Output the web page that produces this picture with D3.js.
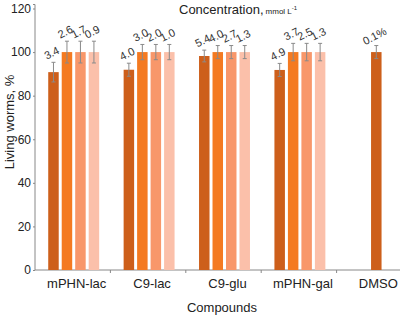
<!DOCTYPE html>
<html>
<head>
<meta charset="utf-8">
<script src="https://cdn.jsdelivr.net/npm/d3@7"></script>
<style>
  body { margin: 0; background: #fff; }
  text { font-family: "Liberation Sans", Arial, sans-serif; }
</style>
</head>
<body>
<div id="chart"></div>
<script>
// compounds on the x axis
const compounds = ["mPHN-lac", "C9-lac", "C9-glu", "mPHN-gal", "DMSO"];

// living worms (%) per compound, one value per concentration
const survival = [
    [90.8, 100, 100, 100],
    [91.9, 100, 100, 100],
    [98.2, 100, 100, 100],
    [91.8, 100, 100, 100],
    [100]
];

// error bar half-widths
const errors = [
    [4.5, 5, 5, 5],
    [3, 3.5, 3.5, 3.5],
    [2.7, 3, 3, 3],
    [3, 4, 4, 4],
    [3]
];

// concentration labels above each bar
const concLabels = [
    ["3.4", "2.6", "1.7", "0.9"],
    ["4.0", "3.0", "2.0", "1.0"],
    ["5.4", "4.0", "2.7", "1.3"],
    ["4.9", "3.7", "2.5", "1.3"],
    ["0.1%"]
];

const yTicks = [0, 20, 40, 60, 80, 100, 120];
const colors = ["#cd5f1b", "#f47a21", "#f8976a", "#fbc0aa"];

const width = 400, height = 319;
const margin = { left: 35, top: 8.5, bottom: 49 };

let svg = d3.select('#chart')
    .append('svg')
    .attr('width', width)
    .attr('height', height);

//Creating scales
let xScale = d3.scaleBand()
    .domain(compounds)
    .range([margin.left, 412]);

let inner = d3.scaleBand()
    .domain([0, 1, 2, 3])
    .range([0, xScale.bandwidth()])
    .paddingInner(0.222)
    .paddingOuter(0.907);

let yScale = d3.scaleLinear()
    .domain([0, 120])
    .range([height - margin.bottom, margin.top]);

//flatten into one row per bar
let bars = [];
compounds.forEach((c, i) => {
    survival[i].forEach((v, j) => {
        let x = survival[i].length === 1
            ? xScale(c) + xScale.bandwidth() / 2 - inner.bandwidth() / 2 + 2
            : xScale(c) + inner(j) + 1;
        bars.push({ compound: c, idx: j, value: v, err: errors[i][j], label: concLabels[i][j], x: x });
    });
});

//Y axis
let yAxis = d3.axisLeft(yScale)
    .tickValues(yTicks)
    .tickSize(2)
    .tickPadding(2);

svg.append('g')
    .attr('transform', `translate(${margin.left}, 0)`)
    .call(yAxis)
    .call(g => g.select('.domain').attr('stroke', '#888').attr('d', `M-2,${yScale(120) - 4}H0V${yScale(0)}`))
    .call(g => g.selectAll('.tick line').attr('stroke', '#888'))
    .call(g => g.selectAll('.tick text').attr('font-size', 12).attr('fill', '#222'));

//X axis with ticks on band boundaries
let xg = svg.append('g')
    .attr('transform', `translate(0, ${yScale(0)})`);

xg.append('line')
    .attr('x1', margin.left)
    .attr('x2', width)
    .attr('stroke', '#888');

xg.selectAll('.bound')
    .data(compounds.slice(1))
    .join('line')
    .attr('class', 'bound')
    .attr('x1', d => xScale(d))
    .attr('x2', d => xScale(d))
    .attr('y1', 0)
    .attr('y2', 3)
    .attr('stroke', '#888');

xg.selectAll('.cat')
    .data(compounds)
    .join('text')
    .attr('class', 'cat')
    .attr('x', d => xScale(d) + xScale.bandwidth() / 2 + 4)
    .attr('y', 18)
    .attr('text-anchor', 'middle')
    .attr('font-size', 13)
    .attr('fill', '#222')
    .text(d => d);

//Bars
svg.append('g')
    .selectAll('rect')
    .data(bars)
    .join('rect')
    .attr('x', d => d.x)
    .attr('y', d => yScale(d.value))
    .attr('width', inner.bandwidth())
    .attr('height', d => yScale(0) - yScale(d.value))
    .attr('fill', d => colors[d.idx]);

//Error bars
let eb = svg.append('g')
    .attr('stroke', '#8a8a8a')
    .attr('stroke-width', 1);

bars.forEach(d => {
    let cx = d.x + inner.bandwidth() / 2;
    eb.append('line')
        .attr('x1', cx).attr('x2', cx)
        .attr('y1', yScale(d.value - d.err))
        .attr('y2', yScale(d.value + d.err));
    [d.value - d.err, d.value + d.err].forEach(v => {
        eb.append('line')
            .attr('x1', cx - 2).attr('x2', cx + 2)
            .attr('y1', yScale(v)).attr('y2', yScale(v));
    });
});

//Concentration labels, tilted
svg.append('g')
    .selectAll('text')
    .data(bars)
    .join('text')
    .attr('transform', d => `translate(${d.x + inner.bandwidth() / 2}, ${yScale(d.value + d.err) - 6}) rotate(-27)`)
    .attr('text-anchor', 'middle')
    .attr('font-size', 11)
    .attr('fill', '#333')
    .text(d => d.label);

//Titles
let title = svg.append('text')
    .attr('x', 179)
    .attr('y', 14)
    .attr('font-size', 13)
    .attr('fill', '#222');
title.append('tspan').text('Concentration,');
title.append('tspan').attr('font-size', 8).attr('dx', 2).text('mmol L');
title.append('tspan').attr('font-size', 6).attr('dy', -4).text('-1');

svg.append('text')
    .attr('transform', `translate(14, 122) rotate(-90)`)
    .attr('text-anchor', 'middle')
    .attr('font-size', 13)
    .attr('fill', '#222')
    .text('Living worms, %');

svg.append('text')
    .attr('x', 222)
    .attr('y', 312)
    .attr('text-anchor', 'middle')
    .attr('font-size', 13)
    .attr('fill', '#222')
    .text('Compounds');
</script>
</body>
</html>
